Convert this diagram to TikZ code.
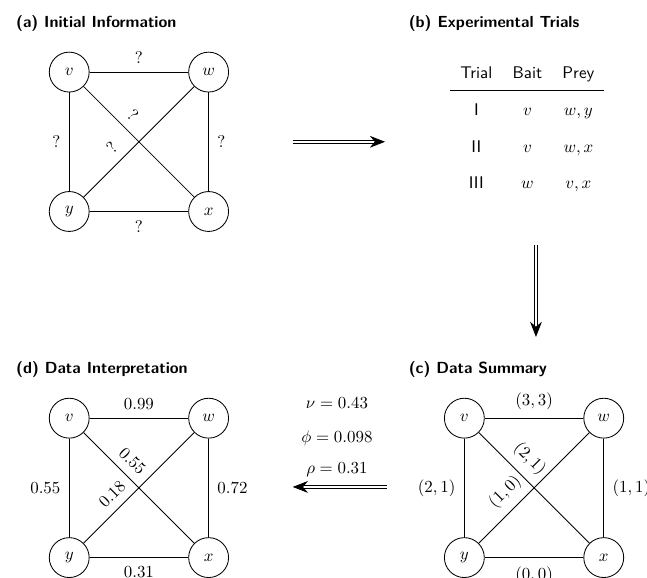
\documentclass[tikz,border=0pt]{standalone}
\usetikzlibrary{arrows.meta}
\tikzset{
  vertex/.style={circle,draw,minimum size=0.83cm,inner sep=0pt},
  wlabel/.style={inner sep=5pt},
  panel/.style={font=\sffamily\bfseries\fontsize{9.5}{11}\selectfont,anchor=base west},
  stage/.style={double,double distance=1.2pt,-{Stealth[length=9pt,width=7pt]}},
}
\begin{document}
\begin{tikzpicture}[line width=0.5pt]
    \useasboundingbox (0,0) rectangle (13.46,12.02);
    %% (a) initial information
    \node[panel] (ta) at (0.21,11.44) {(a) Initial Information};
    \node[vertex] (av) at (1.44,10.52) {$v$};
    \node[vertex] (aw) at (4.34,10.52) {$w$};
    \node[vertex] (ay) at (1.44,7.62) {$y$};
    \node[vertex] (ax) at (4.34,7.62) {$x$};
    \draw (av) -- (aw) node[wlabel,midway,above] {?};
    \draw (av) -- (ay) node[wlabel,midway,left] {?};
    \draw (aw) -- (ax) node[wlabel,midway,right] {?};
    \draw (ay) -- (ax) node[wlabel,midway,below] {?};
    \draw (av) -- (ax) node[wlabel,pos=0.35,sloped,above] {?};
    \draw (ay) -- (aw) node[wlabel,pos=0.35,sloped,above] {?};
    %% (b) experimental trials
    \node[panel] (tb) at (8.38,11.44) {(b) Experimental Trials};
    \node[font=\sffamily] (trials) at (10.97,9.39) {%
        \renewcommand{\arraystretch}{1.8}%
        \begin{tabular}{ccc}
            Trial & Bait & Prey \\ \hline
            I & $v$ & $w,y$ \\
            II & $v$ & $w,x$ \\
            III & $w$ & $v,x$
        \end{tabular}};
    %% (c) data summary
    \node[panel] (tc) at (8.38,4.25) {(c) Data Summary};
    \node[vertex] (cv) at (9.66,3.32) {$v$};
    \node[vertex] (cw) at (12.56,3.32) {$w$};
    \node[vertex] (cy) at (9.66,0.42) {$y$};
    \node[vertex] (cx) at (12.56,0.42) {$x$};
    \draw (cv) -- (cw) node[wlabel,midway,above] {$(3,3)$};
    \draw (cv) -- (cy) node[wlabel,midway,left] {$(2,1)$};
    \draw (cw) -- (cx) node[wlabel,midway,right] {$(1,1)$};
    \draw (cy) -- (cx) node[wlabel,midway,below] {$(0,0)$};
    \draw (cv) -- (cx) node[wlabel,pos=0.35,sloped,above] {$(2,1)$};
    \draw (cy) -- (cw) node[wlabel,pos=0.35,sloped,above] {$(1,0)$};
    %% (d) data interpretation
    \node[panel] (td) at (0.21,4.25) {(d) Data Interpretation};
    \node[vertex] (dv) at (1.44,3.32) {$v$};
    \node[vertex] (dw) at (4.34,3.32) {$w$};
    \node[vertex] (dy) at (1.44,0.42) {$y$};
    \node[vertex] (dx) at (4.34,0.42) {$x$};
    \draw (dv) -- (dw) node[wlabel,midway,above] {$0.99$};
    \draw (dv) -- (dy) node[wlabel,midway,left] {$0.55$};
    \draw (dw) -- (dx) node[wlabel,midway,right] {$0.72$};
    \draw (dy) -- (dx) node[wlabel,midway,below] {$0.31$};
    \draw (dv) -- (dx) node[wlabel,pos=0.35,sloped,above] {$0.55$};
    \draw (dy) -- (dw) node[wlabel,pos=0.35,sloped,above] {$0.18$};
    %% transitions between the panels
    \coordinate (ab0) at (6.09,9.07);
    \coordinate (ab1) at (8.01,9.07);
    \coordinate (bc0) at (11.15,6.92);
    \coordinate (bc1) at (11.15,5.01);
    \coordinate (cd0) at (8.05,1.89);
    \coordinate (cd1) at (6.09,1.89);
    \draw[stage] (ab0) -- (ab1);
    \draw[stage] (bc0) -- (bc1);
    \draw[stage] (cd0) -- (cd1);
    \node[anchor=base] (nu) at (7.01,3.53) {$\nu = 0.43$};
    \node[anchor=base] (phi) at (7.01,2.82) {$\phi = 0.098$};
    \node[anchor=base] (rho) at (7.01,2.17) {$\rho = 0.31$};
\end{tikzpicture}
\end{document}
